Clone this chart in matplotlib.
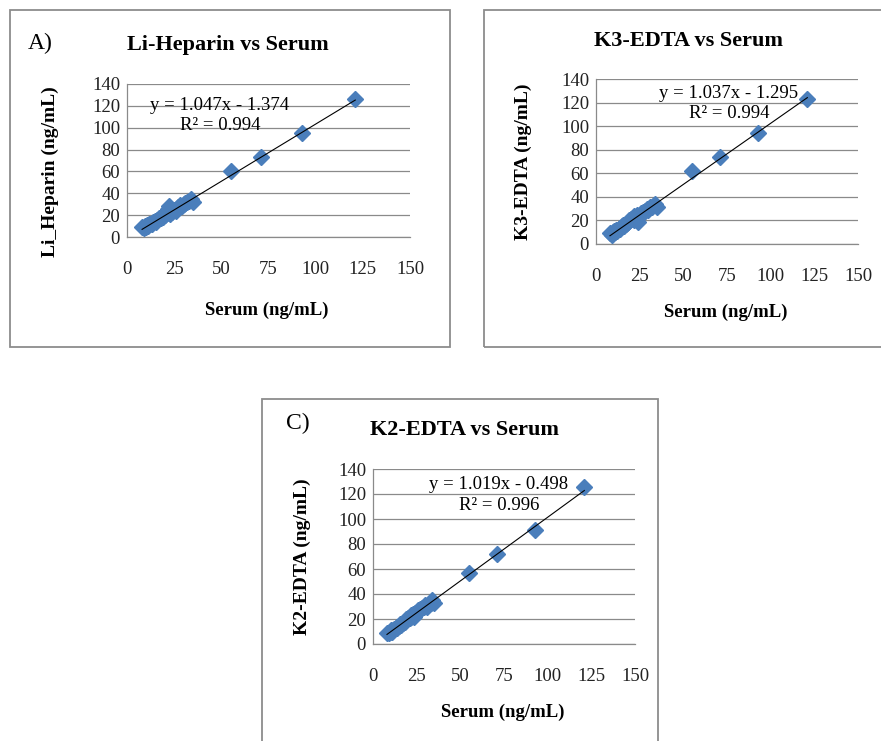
import numpy as np
import matplotlib
matplotlib.use("Agg")
import matplotlib.pyplot as plt
from matplotlib.patches import Rectangle

plt.rcParams['font.family'] = ['Liberation Serif', 'DejaVu Serif']

# data
serum = [8, 9, 9.5, 10, 10.5, 11, 11.5, 12, 13, 13.5, 14, 15, 15.5, 16, 17, 18, 18.5, 19, 20, 21,
         21.5, 22, 23, 23.5, 24, 25, 26, 27, 28, 29, 30, 31, 32, 33, 34, 35, 55, 71, 93, 121]
li_heparin = [9, 8, 10, 9.5, 11, 10, 12, 11.5, 13, 12, 14, 15, 14, 16, 17, 17, 19, 18, 20, 22,
              26, 28, 21, 24, 23, 25, 24, 27, 29, 28, 30, 31, 32, 33, 35, 32, 60, 73, 95, 126]
k3_edta = [9, 8, 10, 9, 11, 10.5, 12, 11, 13, 13, 14, 15, 16, 15, 17, 18, 19, 20, 21, 22,
           20, 24, 22, 25, 19, 24, 26, 27, 28, 30, 29, 31, 31, 33, 34, 31, 62, 74, 94, 123]
k2_edta = [9, 8.5, 10, 9.5, 11, 10, 11.5, 12, 13, 13, 14, 14.5, 16, 15.5, 17, 18, 18, 20, 21, 21,
           23, 22, 24, 22, 25, 26, 27, 28, 29, 30, 31, 30, 32, 33, 35, 33, 57, 72, 91, 126]

panel_labels = ['A)', '', 'C)']
titles = ['Li-Heparin vs Serum', 'K3-EDTA vs Serum', 'K2-EDTA vs Serum']
ylabels = ['Li_Heparin (ng/mL)', 'K3-EDTA (ng/mL)', 'K2-EDTA (ng/mL)']
slopes = [1.047, 1.037, 1.019]
intercepts = [-1.374, -1.295, -0.498]
r2 = [0.994, 0.994, 0.996]
x_ticks = [0, 25, 50, 75, 100, 125, 150]
y_ticks = [0, 20, 40, 60, 80, 100, 120, 140]

W, H = 881, 741
fig = plt.figure(figsize=(W / 100, H / 100), dpi=100)

def fx(px):
    return px / W

def fy(py):
    return 1 - py / H

# layout in pixels: frame box, plot box, title/label spots
layouts = [
    dict(frame=(10, 10, 450, 347), plot=(127, 84, 410, 237), title=(228, 45), tag=(40, 43),
         ylab=(50, 172), xlab=(267, 310), eq=(220, 105)),
    dict(frame=(484, 10, 884, 347), plot=(596, 79, 858, 244), title=(688, 41), tag=None,
         ylab=(523, 162), xlab=(726, 312), eq=(729, 93)),
    dict(frame=(262, 399, 658, 744), plot=(373, 469, 635, 644), title=(465, 430), tag=(298, 423),
         ylab=(302, 557), xlab=(503, 712), eq=(499, 485)),
]
ys = [li_heparin, k3_edta, k2_edta]

for i, lay in enumerate(layouts):
    x0, y0, x1, y1 = lay['frame']
    fig.add_artist(Rectangle((fx(x0), fy(y1)), fx(x1 - x0), (y1 - y0) / H,
                             transform=fig.transFigure, fill=False, edgecolor='#8c8c8c', lw=1.3))
    px0, py0, px1, py1 = lay['plot']
    ax = fig.add_axes([fx(px0), fy(py1), fx(px1 - px0), (py1 - py0) / H])
    ax.set_xlim(0, 150)
    ax.set_ylim(0, 140)
    ax.set_xticks(x_ticks)
    ax.set_yticks(y_ticks)
    ax.yaxis.grid(True, color='#8a8a8a', lw=0.9)
    ax.set_axisbelow(True)
    for s in ['top', 'right']:
        ax.spines[s].set_visible(False)
    for s in ['left', 'bottom']:
        ax.spines[s].set_color('#8a8a8a')
        ax.spines[s].set_linewidth(0.9)
    ax.tick_params(length=0, labelsize=13.5, colors='#222222', pad=5)
    ax.tick_params(axis='x', pad=17)

    ax.plot(serum, ys[i], 'D', color='#4a7ebb', ms=8.5, mec='#4a7ebb', zorder=3)
    xs = np.array([min(serum), max(serum)])
    ax.plot(xs, slopes[i] * xs + intercepts[i], color='black', lw=0.8, zorder=4)

    fig.text(fx(lay['title'][0]), fy(lay['title'][1]), titles[i], ha='center', va='center',
             fontsize=16, fontweight='bold')
    if lay['tag']:
        fig.text(fx(lay['tag'][0]), fy(lay['tag'][1]), panel_labels[i], ha='center', va='center',
                 fontsize=17)
    fig.text(fx(lay['ylab'][0]), fy(lay['ylab'][1]), ylabels[i], ha='center', va='center',
             rotation=90, fontsize=14, fontweight='bold')
    fig.text(fx(lay['xlab'][0]), fy(lay['xlab'][1]), 'Serum (ng/mL)', ha='center', va='center',
             fontsize=13.5, fontweight='bold')
    sign = '-' if intercepts[i] < 0 else '+'
    fig.text(fx(lay['eq'][0]), fy(lay['eq'][1]),
             'y = %.3fx %s %.3f' % (slopes[i], sign, abs(intercepts[i])),
             ha='center', va='center', fontsize=13.5)
    fig.text(fx(lay['eq'][0]), fy(lay['eq'][1] + 21), 'R² = %.3f' % r2[i],
             ha='center', va='center', fontsize=13.5)

fig.savefig('out.png', dpi=100)
